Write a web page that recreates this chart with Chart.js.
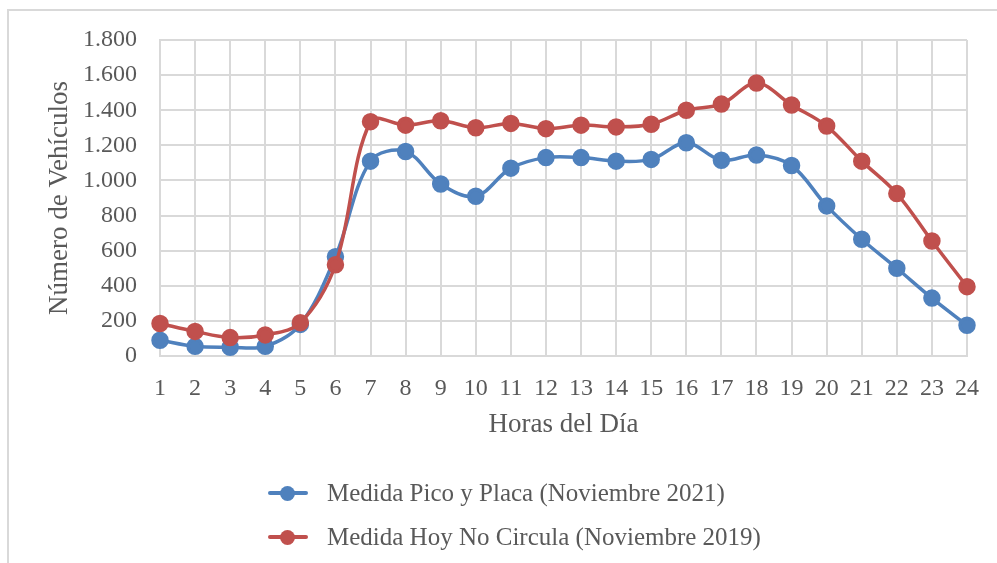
<!DOCTYPE html>
<html>
<head>
<meta charset="utf-8">
<script src="https://cdn.jsdelivr.net/npm/chart.js@4/dist/chart.umd.min.js"></script>
<style>
  html, body { margin: 0; padding: 0; background: #fff; overflow: hidden; }
  #wrap { position: relative; width: 997px; height: 563px; }
  #frame { position: absolute; left: 7px; top: 9px; width: 1010px; height: 600px; border: 2px solid #d9d9d9; box-sizing: border-box; }
  #chart { position: absolute; left: 0; top: 0; }
  .leg-row { position: absolute; left: 268px; height: 30px; display: flex; align-items: center; font-family: 'Liberation Serif', serif; font-size: 25px; color: #595959; }
  .leg-sym { position: relative; width: 40px; height: 30px; margin-right: 19px; }
  .leg-sym .ln { position: absolute; left: 0; top: 13px; width: 40px; height: 4px; border-radius: 2px; }
  .leg-sym .dot { position: absolute; left: 12px; top: 8px; width: 15px; height: 15px; border-radius: 50%; }
</style>
</head>
<body>
<div id="wrap">
  <div id="frame"></div>
  <canvas id="chart" width="997" height="563"></canvas>
  <div class="leg-row" style="top:478px"><div class="leg-sym"><div class="ln" style="background:#4f81bd"></div><div class="dot" style="background:#4f81bd"></div></div><span id="leg0"></span></div>
  <div class="leg-row" style="top:522px"><div class="leg-sym"><div class="ln" style="background:#c0504d"></div><div class="dot" style="background:#c0504d"></div></div><span id="leg1"></span></div>
</div>
<script>
// --- Data ---
const hours = ['1','2','3','4','5','6','7','8','9','10','11','12','13','14','15','16','17','18','19','20','21','22','23','24'];
const picoPlaca = [90, 55, 50, 55, 180, 565, 1110, 1165, 980, 910, 1070, 1130, 1130, 1110, 1120, 1215, 1115, 1145, 1085, 855, 665, 500, 330, 175];
const hoyNoCircula = [185, 140, 105, 120, 190, 520, 1335, 1315, 1340, 1300, 1325, 1295, 1315, 1305, 1320, 1400, 1435, 1555, 1430, 1310, 1110, 925, 655, 395];
const seriesNames = ['Medida Pico y Placa (Noviembre 2021)', 'Medida Hoy No Circula (Noviembre 2019)'];
const seriesColors = ['#4f81bd', '#c0504d'];
const yMax = 1800, yStep = 200;

const fontFamily = "'Liberation Serif', serif";
const textColor = '#595959';
const gridColor = '#d9d9d9';

document.getElementById('leg0').textContent = seriesNames[0];
document.getElementById('leg1').textContent = seriesNames[1];

function makeSet(label, data, color) {
    return {
        label: label,
        data: data,
        borderColor: color,
        backgroundColor: color,
        borderWidth: 3.5,
        pointRadius: 7,
        pointHoverRadius: 7,
        pointBackgroundColor: color,
        pointBorderColor: color,
        tension: 0.35,
        fill: false
    };
}

const ctx = document.getElementById('chart').getContext('2d');
const chart = new Chart(ctx, {
    type: 'line',
    data: {
        labels: hours,
        datasets: [
            makeSet(seriesNames[1], hoyNoCircula, seriesColors[1]),
            makeSet(seriesNames[0], picoPlaca, seriesColors[0])
        ]
    },
    options: {
        responsive: false,
        animation: false,
        layout: { padding: { left: 0, right: 22, top: 40, bottom: 117 } },
        plugins: {
            legend: { display: false },
            tooltip: { enabled: false }
        },
        scales: {
            x: {
                offset: false,
                grid: { color: gridColor, lineWidth: 2, drawTicks: false },
                border: { color: gridColor, width: 2 },
                ticks: { color: textColor, font: { family: fontFamily, size: 24 }, padding: 18, maxRotation: 0, autoSkip: false },
                title: { display: true, text: 'Horas del Día', color: textColor, font: { family: fontFamily, size: 27 }, padding: { top: 0, bottom: 5 } },
                afterFit: (scale) => { scale.height = 90; }
            },
            y: {
                min: 0,
                max: yMax,
                grid: { color: gridColor, lineWidth: 2, drawTicks: false },
                border: { color: gridColor, width: 2 },
                ticks: {
                    stepSize: yStep,
                    color: textColor,
                    font: { family: fontFamily, size: 24 },
                    padding: 23,
                    callback: (v) => v.toString().replace(/\B(?=(\d{3})+(?!\d))/g, '.')
                },
                title: { display: true, text: 'Número de Vehículos', color: textColor, font: { family: fontFamily, size: 27 }, padding: { top: 44, bottom: 0 } },
                afterFit: (scale) => { scale.width = 160; }
            }
        }
    }
});
</script>
</body>
</html>
